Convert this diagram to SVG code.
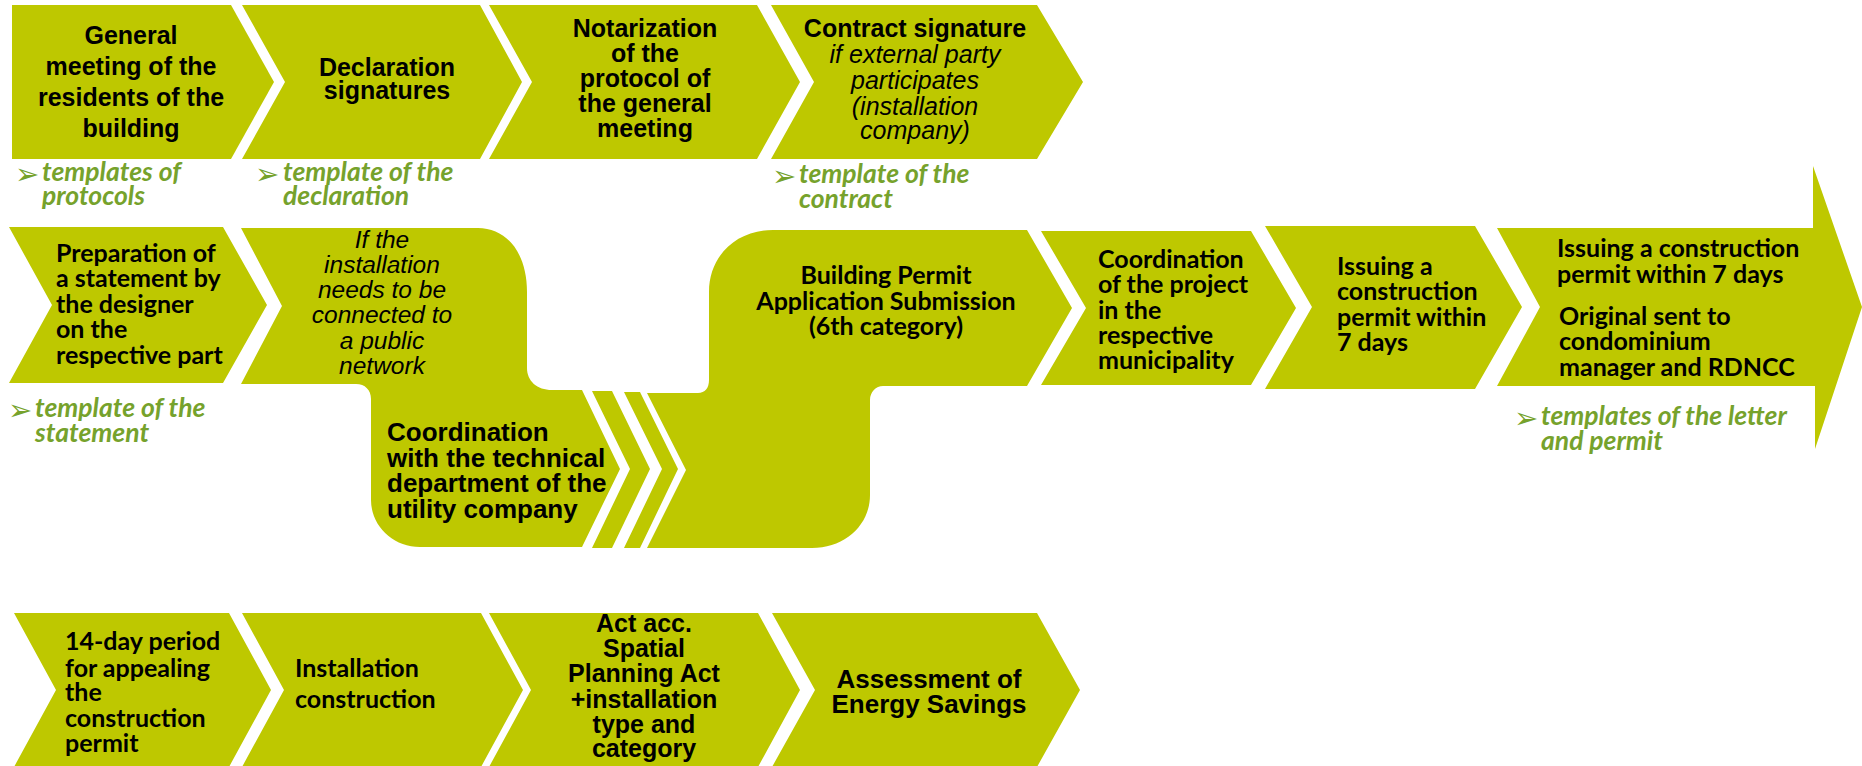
<svg xmlns="http://www.w3.org/2000/svg" width="1862" height="766" viewBox="0 0 1862 766">
<style>
  .shape { fill: #BEC800; }
  .b { font-family: "Liberation Sans", Arial, sans-serif; font-weight: bold; fill: #000; }
  .i { font-family: "Liberation Sans", Arial, sans-serif; font-style: italic; fill: #000; }
  .c { font-family: Lato, "Open Sans", sans-serif; font-weight: bold; font-size: 25px; fill: #000; }
  .t { font-family: Lato, "Open Sans", sans-serif; font-weight: bold; font-style: italic; font-size: 26.5px; fill: #76A22C; }
  .ar { font-family: "DejaVu Sans", sans-serif; font-size: 29px; fill: #76A22C; }
  .mid { text-anchor: middle; }
</style>
<rect width="1862" height="766" fill="#FFFFFF"/>

<!-- Row 1 -->
<g id="general-meeting">
  <path class="shape" d="M12,5 H231 L274,82 L231,159 H12 Z"/>
  <g class="b mid" font-size="25">
    <text x="131" y="44">General</text>
    <text x="131" y="75">meeting of the</text>
    <text x="131" y="106">residents of the</text>
    <text x="131" y="137">building</text>
  </g>
  <text class="ar" x="15" y="184">➢</text>
  <text class="t" x="42" y="181">templates of</text>
  <text class="t" x="42" y="205">protocols</text>
</g>

<g id="declaration-signatures">
  <path class="shape" d="M242,5 H480 L522,82 L480,159 H242 L285,82 Z"/>
  <g class="b mid" font-size="25">
    <text x="387" y="76">Declaration</text>
    <text x="387" y="99">signatures</text>
  </g>
  <text class="ar" x="255" y="184">➢</text>
  <text class="t" x="283" y="181">template of the</text>
  <text class="t" x="283" y="205">declaration</text>
</g>

<g id="notarization">
  <path class="shape" d="M489,5 H757 L800,82 L757,159 H489 L532,82 Z"/>
  <g class="b mid" font-size="25">
    <text x="645" y="37">Notarization</text>
    <text x="645" y="62">of the</text>
    <text x="645" y="87">protocol of</text>
    <text x="645" y="112">the general</text>
    <text x="645" y="137">meeting</text>
  </g>
</g>

<g id="contract-signature">
  <path class="shape" d="M771,5 H1037 L1083,82 L1037,159 H771 L814,82 Z"/>
  <text class="b mid" font-size="25" x="915" y="37">Contract signature</text>
  <g class="i mid" font-size="25">
    <text x="915" y="63">if external party</text>
    <text x="915" y="89">participates</text>
    <text x="915" y="115">(installation</text>
    <text x="915" y="139">company)</text>
  </g>
  <text class="ar" x="772" y="186">➢</text>
  <text class="t" x="799" y="183">template of the</text>
  <text class="t" x="799" y="208">contract</text>
</g>

<!-- Row 2 -->
<g id="designer-statement">
  <path class="shape" d="M9,227 H223 L267,305 L223,383 H9 L52,305 Z"/>
  <g class="c">
    <text x="56" y="262">Preparation of</text>
    <text x="56" y="287">a statement by</text>
    <text x="56" y="313">the designer</text>
    <text x="56" y="338">on the</text>
    <text x="56" y="364">respective part</text>
  </g>
  <text class="ar" x="8" y="420">➢</text>
  <text class="t" x="35" y="417">template of the</text>
  <text class="t" x="35" y="442">statement</text>
</g>

<g id="utility-coordination">
  <path class="shape" d="M241,228 H478 C506,228 527,252 527,292 V368 C527,381 537,390 552,390 H582 L620,469 L582,547 H420 C393,547 371,526 371,500 V399 C371,390 365,384 356,384 H241 L282,306 Z"/>
  <g class="i mid" font-size="24.5">
    <text x="382" y="248">If the</text>
    <text x="382" y="273">installation</text>
    <text x="382" y="298">needs to be</text>
    <text x="382" y="323">connected to</text>
    <text x="382" y="349">a public</text>
    <text x="382" y="374">network</text>
  </g>
  <g class="b" font-size="26">
    <text x="387" y="441">Coordination</text>
    <text x="387" y="467">with the technical</text>
    <text x="387" y="492">department of the</text>
    <text x="387" y="518">utility company</text>
  </g>
</g>

<g id="connectors">
  <path class="shape" d="M592,391 H612 L650,469 L612,548 H592 L630,469 Z"/>
  <path class="shape" d="M624,392 H640 L678,469 L640,548 H624 L662,469 Z"/>
</g>

<g id="permit-application">
  <path class="shape" d="M773,230 H1027 L1072,308 L1027,386 H883 C876,386 870,392 870,400 V495 C870,525 845,548 812,548 H647 L686,470 L647,393 H698 C705,393 709,388 709,380 V292 C709,256 736,230 773,230 Z"/>
  <g class="c mid">
    <text x="886" y="284">Building Permit</text>
    <text x="886" y="310">Application Submission</text>
    <text x="886" y="335">(6th category)</text>
  </g>
</g>

<g id="municipality-coordination">
  <path class="shape" d="M1041,231 H1251 L1296,308 L1251,385 H1041 L1086,308 Z"/>
  <g class="c">
    <text x="1098" y="268">Coordination</text>
    <text x="1098" y="293">of the project</text>
    <text x="1098" y="319">in the</text>
    <text x="1098" y="344">respective</text>
    <text x="1098" y="369">municipality</text>
  </g>
</g>

<g id="issuing-permit">
  <path class="shape" d="M1265,226 H1475 L1522,307 L1475,389 H1265 L1312,307 Z"/>
  <g class="c">
    <text x="1337" y="275">Issuing a</text>
    <text x="1337" y="300">construction</text>
    <text x="1337" y="326">permit within</text>
    <text x="1337" y="351">7 days</text>
  </g>
</g>

<g id="permit-sent">
  <path class="shape" d="M1497,228 H1813 V166 L1862,307 L1815,449 V386 H1497 L1540,307 Z"/>
  <g class="c">
    <text x="1557" y="257">Issuing a construction</text>
    <text x="1557" y="283">permit within 7 days</text>
    <text x="1559" y="325">Original sent to</text>
    <text x="1559" y="350">condominium</text>
    <text x="1559" y="376">manager and RDNCC</text>
  </g>
  <text class="ar" x="1514" y="428">➢</text>
  <text class="t" x="1541" y="425">templates of the letter</text>
  <text class="t" x="1541" y="450">and permit</text>
</g>

<!-- Row 3 -->
<g id="appeal-period">
  <path class="shape" d="M14,613 H229 L271,690 L229,767 H14 L56,690 Z"/>
  <g class="c">
    <text x="65" y="650">14-day period</text>
    <text x="65" y="677">for appealing</text>
    <text x="65" y="701">the</text>
    <text x="65" y="727">construction</text>
    <text x="65" y="752">permit</text>
  </g>
</g>

<g id="installation-construction">
  <path class="shape" d="M242,613 H481 L523,690 L481,767 H242 L284,690 Z"/>
  <g class="c">
    <text x="295" y="677">Installation</text>
    <text x="295" y="708">construction</text>
  </g>
</g>

<g id="spatial-planning-act">
  <path class="shape" d="M489,613 H758 L800,690 L758,767 H489 L531,690 Z"/>
  <g class="b mid" font-size="25">
    <text x="644" y="632">Act acc.</text>
    <text x="644" y="657">Spatial</text>
    <text x="644" y="682">Planning Act</text>
    <text x="644" y="708">+installation</text>
    <text x="644" y="733">type and</text>
    <text x="644" y="757">category</text>
  </g>
</g>

<g id="energy-savings">
  <path class="shape" d="M772,613 H1037 L1080,690 L1037,767 H772 L815,690 Z"/>
  <g class="b mid" font-size="26">
    <text x="929" y="688">Assessment of</text>
    <text x="929" y="713">Energy Savings</text>
  </g>
</g>
</svg>
